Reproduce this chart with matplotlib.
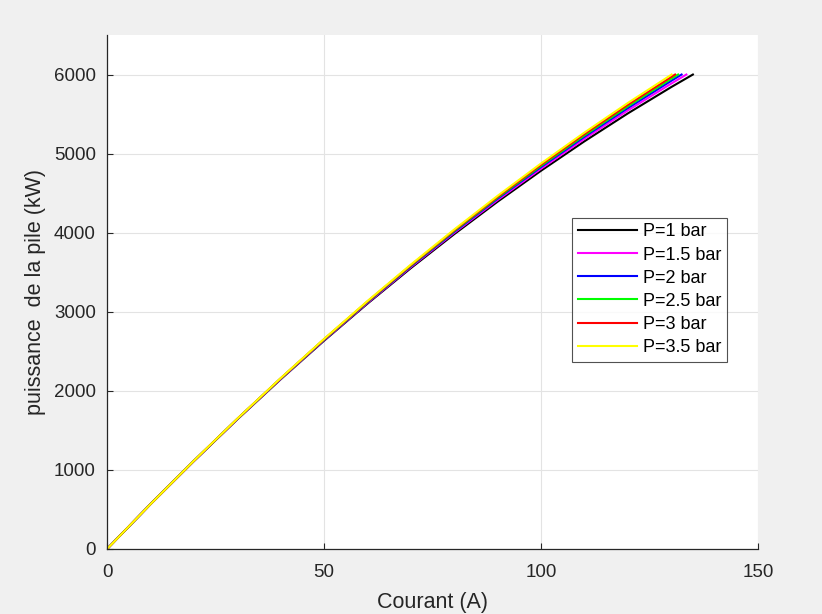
import matplotlib
matplotlib.use("Agg")
import matplotlib.pyplot as plt

plt.rcParams['font.family'] = ['Liberation Sans', 'DejaVu Sans']

labels = ["P=1 bar", "P=1.5 bar", "P=2 bar", "P=2.5 bar", "P=3 bar", "P=3.5 bar"]
colors = ["#000000", "#ff00ff", "#0000ff", "#00ff00", "#ff0000", "#ffff00"]

base_I = [0, 10, 20, 30, 40, 50, 60, 70, 80, 90, 100, 110, 120, 130]
I_end = [135.0, 133.5, 132.4, 131.6, 130.9, 130.1]

P_1 = [0, 565, 1111, 1638, 2145, 2633, 3102, 3551, 3981, 4392, 4783, 5155, 5508, 5841, 6000]
P_15 = [0, 566, 1112, 1640, 2149, 2640, 3111, 3564, 3998, 4413, 4809, 5186, 5545, 5885, 6000]
P_2 = [0, 566, 1113, 1642, 2153, 2645, 3119, 3574, 4011, 4430, 4830, 5212, 5575, 5920, 6000]
P_25 = [0, 566, 1114, 1644, 2155, 2649, 3124, 3582, 4021, 4442, 4845, 5230, 5597, 5946, 6000]
P_3 = [0, 566, 1114, 1645, 2157, 2652, 3129, 3588, 4030, 4453, 4859, 5247, 5617, 5969, 6000]
P_35 = [0, 566, 1115, 1646, 2160, 2656, 3135, 3596, 4040, 4466, 4875, 5266, 5640, 5996, 6000]
powers = [P_1, P_15, P_2, P_25, P_3, P_35]

x_ticks = [0, 50, 100, 150]
y_ticks = [0, 1000, 2000, 3000, 4000, 5000, 6000]

fig = plt.figure(figsize=(8.22, 6.14), dpi=100, facecolor="#f0f0f0")
ax = fig.add_axes([0.1302, 0.1059, 0.7919, 0.8371])
ax.set_facecolor("white")

for lab, col, P, ie in zip(labels, colors, powers, I_end):
    I = base_I + [ie]
    ax.plot(I, P, color=col, lw=1.5, label=lab)

ax.set_xlim(0, 150)
ax.set_ylim(0, 6500)
ax.set_xticks(x_ticks)
ax.set_yticks(y_ticks)
ax.grid(True, color="#e3e3e3", lw=0.8)
ax.set_axisbelow(True)
for s in ["top", "right"]:
    ax.spines[s].set_visible(False)
for s in ["left", "bottom"]:
    ax.spines[s].set_color("#262626")
    ax.spines[s].set_linewidth(0.9)
ax.tick_params(direction="in", length=4, width=0.8, colors="#262626",
               labelsize=13.5)
ax.tick_params(axis="x", pad=11)
ax.tick_params(axis="y", pad=8)
ax.set_xlabel("Courant (A)", fontsize=15.5, color="#262626", labelpad=8)
ax.set_ylabel("puissance  de la pile (kW)", fontsize=15.5, color="#262626", labelpad=6)

leg = ax.legend(loc="upper left", bbox_to_anchor=(0.715, 0.644), borderaxespad=0,
                fontsize=13, frameon=True, fancybox=False, handlelength=3.3,
                handletextpad=0.3, labelspacing=0.34, borderpad=0.3)
leg.get_frame().set_edgecolor("#262626")
leg.get_frame().set_linewidth(0.8)

fig.savefig("out.png", dpi=100, facecolor=fig.get_facecolor())
